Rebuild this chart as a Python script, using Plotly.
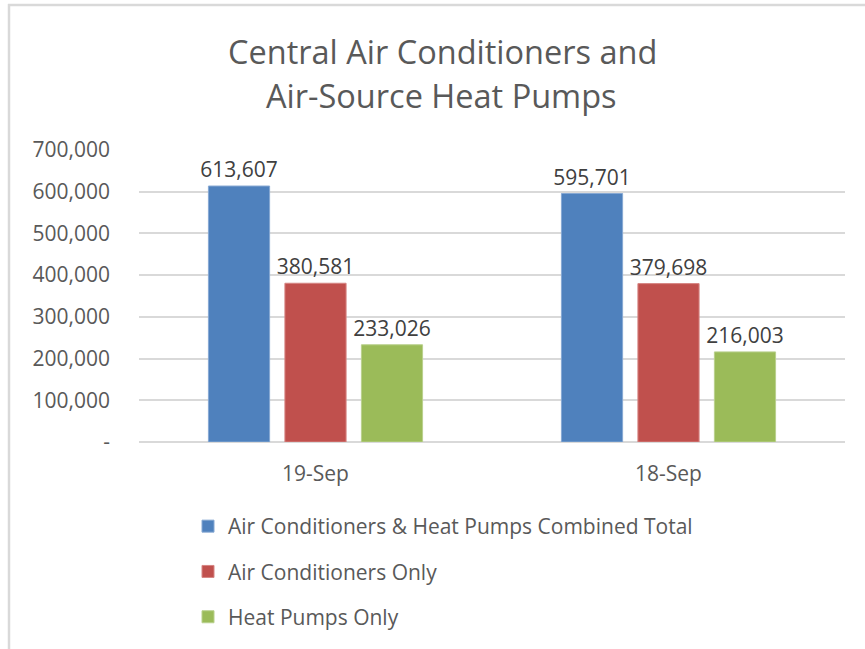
import plotly.graph_objects as go

categories = ["19-Sep", "18-Sep"]
series_names = [
    "Air Conditioners & Heat Pumps Combined Total",
    "Air Conditioners Only",
    "Heat Pumps Only",
]
combined_total = [613607, 595701]
ac_only = [380581, 379698]
hp_only = [233026, 216003]
series_values = [combined_total, ac_only, hp_only]
series_colors = ["#4F81BD", "#C0504D", "#9BBB59"]
line_colors = ["#86A8D3", "#D68583", "#B9D08C"]
tick_vals = [0, 100000, 200000, 300000, 400000, 500000, 600000, 700000]
tick_text = ["-", "100,000", "200,000", "300,000", "400,000", "500,000", "600,000", "700,000"]
title_lines = ["Central Air Conditioners and", "Air-Source Heat Pumps"]

W, H = 865, 649
L, R, T, B = 139, 845, 150, 442

FONT = "Open Sans"
GREY = "#595959"
fig = go.Figure()
for i, (name, vals) in enumerate(zip(series_names, series_values)):
    fig.add_trace(go.Bar(
        x=categories, y=vals, name=name,
        marker=dict(color=series_colors[i], line=dict(color=line_colors[i], width=1)),
        text=[f"{v:,}" for v in vals], textposition="outside", constraintext="none",
        textfont=dict(family=FONT, size=21, color="#404040"),
        cliponaxis=False, legendgroup=f"g{i}",
    ))

def px_x(p):
    return (p - L) / (R - L)

def px_y(p):
    return (B - p) / (B - T)

fig.update_layout(
    width=W, height=H,
    margin=dict(l=L, r=W - R, t=T, b=H - B, pad=0, autoexpand=False),
    paper_bgcolor="white", plot_bgcolor="white",
    barmode="group", bargap=0.35, bargroupgap=0.2,
    font=dict(family=FONT, color=GREY),
    showlegend=True,
    legend=dict(
        xref="container", yref="container", x=188 / W, y=1 - 506 / H,
        xanchor="left", yanchor="top", orientation="v",
        font=dict(family=FONT, size=21, color=GREY),
        tracegroupgap=15, bgcolor="rgba(0,0,0,0)",
    ),
    xaxis=dict(showgrid=False, showline=False, ticks="", tickangle=0, ticklabelstandoff=17,
               tickfont=dict(family=FONT, size=21, color=GREY)),
    yaxis=dict(range=[0, 700000], tickvals=tick_vals, ticktext=tick_text,
               showgrid=True, gridcolor="#D9D9D9", gridwidth=2,
               zeroline=True, zerolinecolor="#D9D9D9", zerolinewidth=2,
               showline=False, ticks="", ticklabelstandoff=28,
               tickfont=dict(family=FONT, size=21, color=GREY)),
    annotations=[
        dict(text=title_lines[0], xref="paper", yref="paper", x=px_x(442.5), y=px_y(51),
             xanchor="center", yanchor="middle", showarrow=False,
             font=dict(family=FONT, size=32.5, color=GREY)),
        dict(text=title_lines[1], xref="paper", yref="paper", x=px_x(441.5), y=px_y(96),
             xanchor="center", yanchor="middle", showarrow=False,
             font=dict(family=FONT, size=32.5, color=GREY)),
    ],
    shapes=[
        dict(type="line", xref="paper", yref="paper", x0=px_x(8), x1=px_x(870), y0=px_y(5), y1=px_y(5),
             line=dict(color="#D9D9D9", width=2.5)),
        dict(type="line", xref="paper", yref="paper", x0=px_x(9), x1=px_x(9), y0=px_y(4), y1=px_y(655),
             line=dict(color="#D9D9D9", width=2.5)),
    ],
)

fig.write_html("out.html", config={"displayModeBar": False},
               post_script="document.body.style.margin='0';document.body.style.overflow='hidden';")
